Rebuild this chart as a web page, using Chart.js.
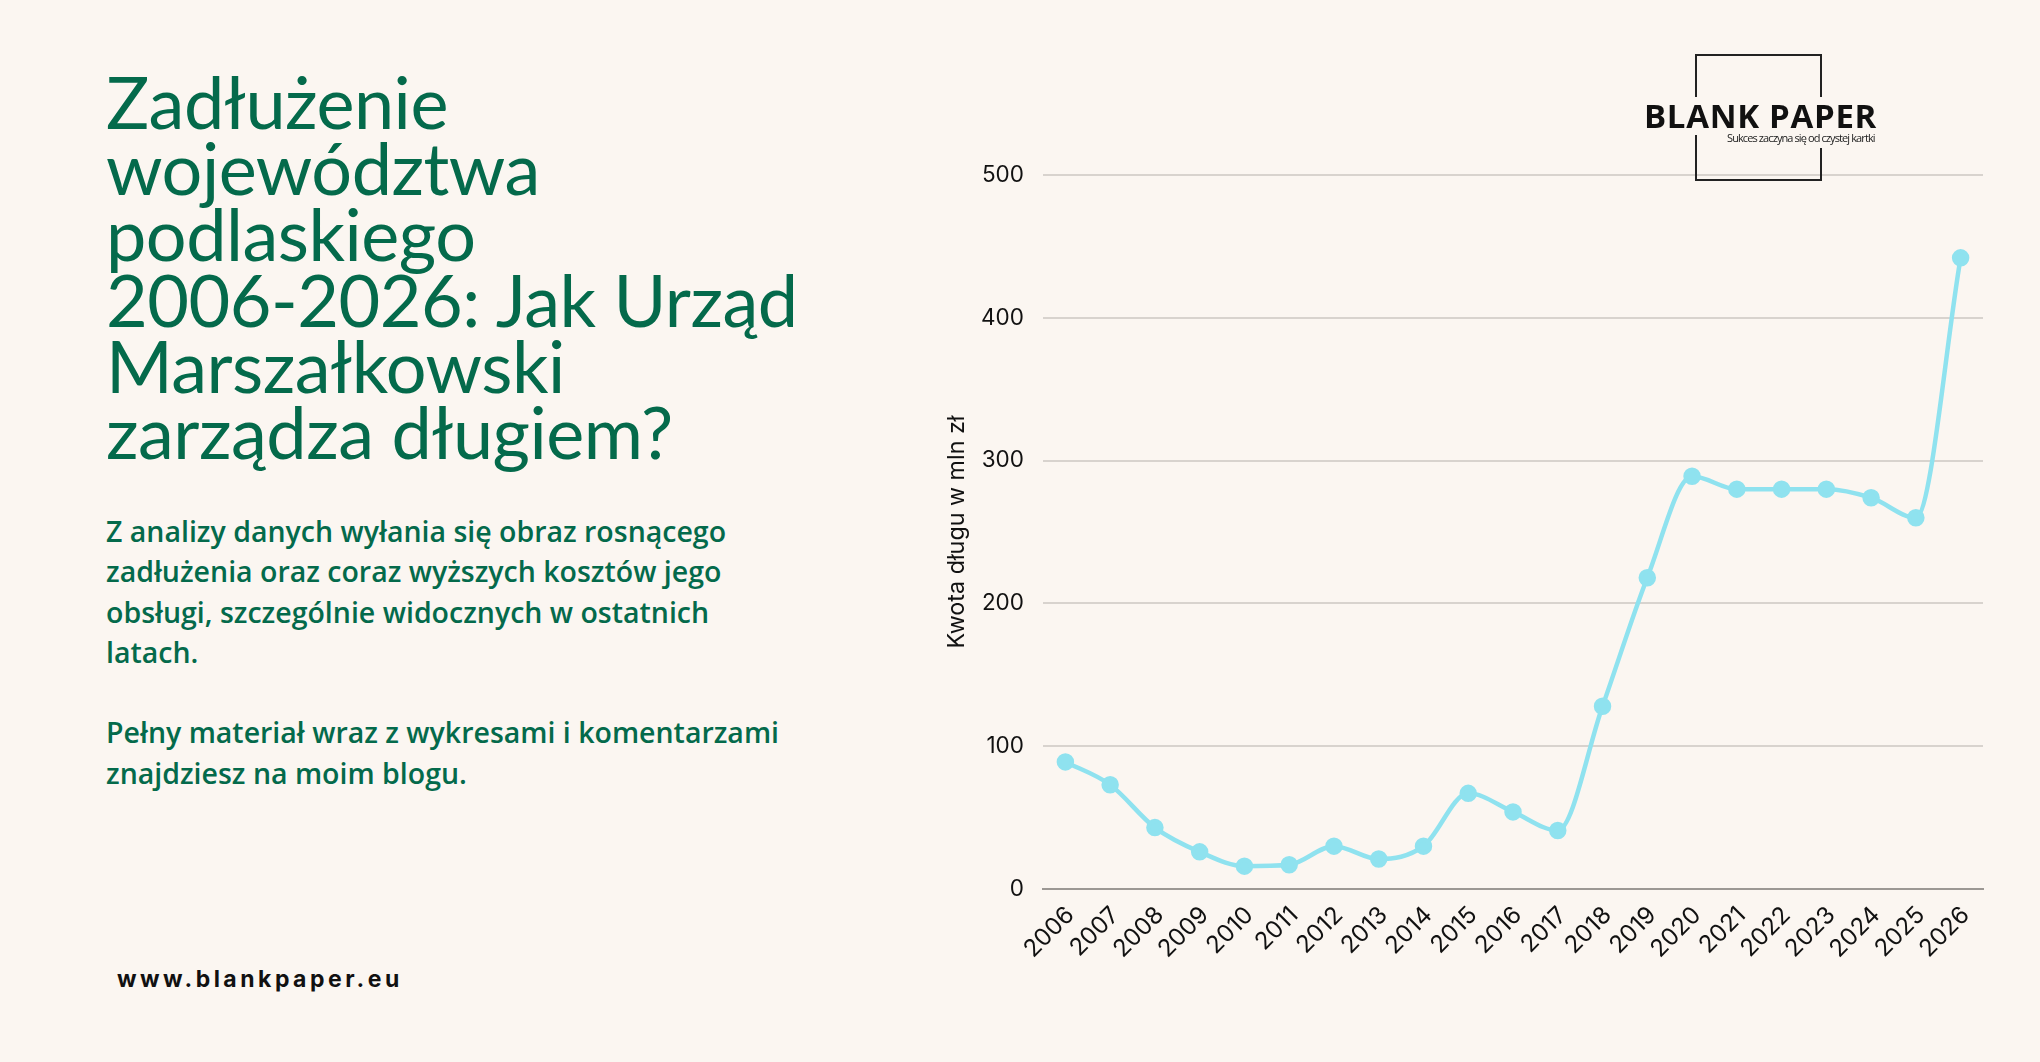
<!DOCTYPE html>
<html lang="pl">
<head>
<meta charset="utf-8">
<title>Zadłużenie województwa podlaskiego</title>
<script src="https://cdn.jsdelivr.net/npm/chart.js@4"></script>
<style>
html, body { margin: 0; padding: 0; background: #fbf6f1; }
body { width: 2040px; height: 1062px; position: relative; overflow: hidden; }
#title { position: absolute; left: 106px; top: 68px; color: #046a4b; font: 400 72px/66px Lato, sans-serif; letter-spacing: -0.5px; margin: 0; white-space: nowrap; }
#lead { position: absolute; left: 106px; top: 511px; color: #046a4b; font: 600 28.5px/40.3px "Open Sans", sans-serif; margin: 0; white-space: nowrap; }
#www { position: absolute; left: 117px; top: 964px; color: #111; font: 700 23px/30px Inter, sans-serif; letter-spacing: 3.5px; }
#wrap { position: absolute; left: 920px; top: 1px; width: 1120px; height: 1062px; }
#box { position: absolute; left: 1695px; top: 54px; width: 123px; height: 123px; border: 2px solid #222; }
#logo { position: absolute; left: 1644px; top: 97px; width: 232px; height: 38px; background: #fbf6f1; color: #111; font: 700 33px/38px "Open Sans", sans-serif; white-space: nowrap; letter-spacing: 0.7px; }
#tag { position: absolute; left: 1727px; top: 131px; background: #fbf6f1; color: #222; font: 400 11px/14px "Open Sans", sans-serif; white-space: nowrap; letter-spacing: -0.9px; padding: 0 0 3px 0; }
</style>
</head>
<body>
<h1 id="title">Zadłużenie<br>województwa<br>podlaskiego<br>2006-2026: Jak Urząd<br>Marszałkowski<br>zarządza długiem?</h1>
<p id="lead">Z analizy danych wyłania się obraz rosnącego<br>zadłużenia oraz coraz wyższych kosztów jego<br>obsługi, szczególnie widocznych w ostatnich<br>latach.<br><br>Pełny materiał wraz z wykresami i komentarzami<br>znajdziesz na moim blogu.</p>
<div id="www">www.blankpaper.eu</div>
<div id="wrap"><canvas id="debtChart" width="1120" height="1062"></canvas></div>
<div id="box"></div>
<div id="logo">BLANK PAPER</div>
<div id="tag">Sukces zaczyna się od czystej kartki</div>
<script>
let years = ['2006', '2007', '2008', '2009', '2010', '2011', '2012', '2013', '2014', '2015', '2016',
    '2017', '2018', '2019', '2020', '2021', '2022', '2023', '2024', '2025', '2026'];
let debt = [89, 73, 43, 26, 16, 17, 30, 21, 30, 67, 54, 41, 128, 218, 289, 280, 280, 280, 274, 260, 442];
let lineColor = '#8fe2ef';
let axisFont = { family: 'Inter', size: 22.5 };

let ctx = document.getElementById('debtChart').getContext('2d');

let chart = new Chart(ctx, {
    type: 'line',
    data: {
        labels: years,
        datasets: [{
            label: 'Kwota długu w mln zł',
            data: debt,
            borderColor: lineColor,
            backgroundColor: lineColor,
            pointBackgroundColor: lineColor,
            pointBorderColor: lineColor,
            borderWidth: 4.5,
            pointRadius: 6.5,
            cubicInterpolationMode: 'monotone',
            fill: false
        }]
    },
    options: {
        responsive: false,
        animation: false,
        layout: { padding: { left: 20, top: 174, right: 57, bottom: 20 } },
        plugins: { legend: { display: false }, title: { display: false }, tooltip: { enabled: false } },
        scales: {
            x: {
                offset: true,
                grid: { display: false },
                border: { color: '#9c9894', width: 2 },
                ticks: { color: '#111', font: { family: 'Inter', size: 24 }, minRotation: 45, maxRotation: 45, autoSkip: false, padding: 4, labelOffset: 5 },
                afterFit: function (scale) { scale.height = 154; }
            },
            y: {
                min: 0,
                max: 500,
                grid: { color: '#d8d3ce', lineWidth: 2, drawTicks: false },
                border: { display: false },
                ticks: { color: '#111', font: axisFont, stepSize: 100, padding: 19 },
                title: { display: true, text: 'Kwota długu w mln zł', color: '#111', font: { family: 'Inter', size: 23.3 }, padding: { top: 3, bottom: 0 } },
                afterFit: function (scale) { scale.width = 103; }
            }
        }
    }
});
</script>
</body>
</html>
